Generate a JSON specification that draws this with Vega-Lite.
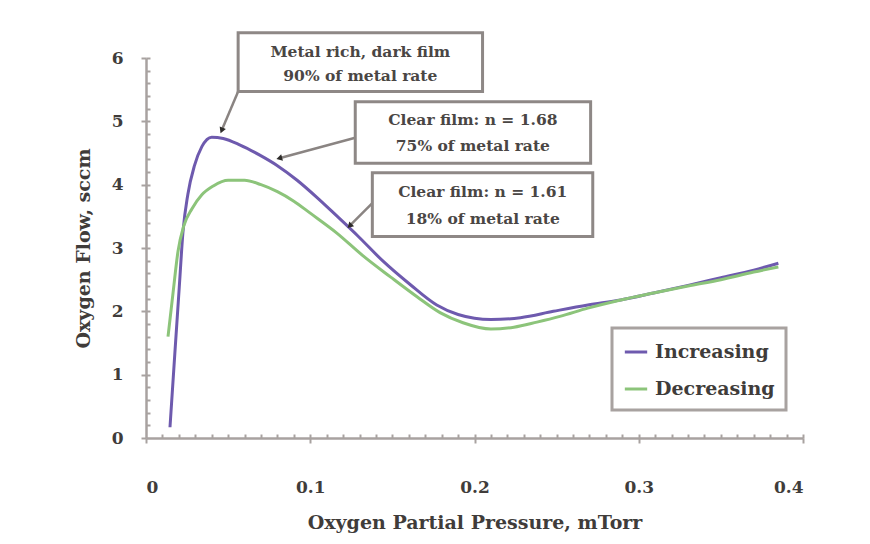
{
  "$schema": "https://vega.github.io/schema/vega-lite/v6.json",
  "autosize": "none",
  "width": 657,
  "height": 380,
  "padding": {"left": 146, "top": 58, "right": 67, "bottom": 106},
  "background": "#ffffff",
  "config": {
    "view": {"stroke": null},
    "font": "DejaVu Serif",
    "axis": {"domainColor": "#a8a2a0", "tickColor": "#a8a2a0", "domainWidth": 2.5, "tickWidth": 2, "labelFont": "DejaVu Serif", "labelFontWeight": "bold", "labelColor": "#403c3a", "labelFontSize": 17, "titleFont": "DejaVu Serif", "titleFontWeight": "bold", "titleColor": "#403c3a", "titleFontSize": 19, "grid": false}
  },
  "datasets": {
    "curves": [
      {"series": "Increasing", "p": 0.0146, "flow": 0.17},
      {"series": "Increasing", "p": 0.0177, "flow": 1.39},
      {"series": "Increasing", "p": 0.0203, "flow": 2.4},
      {"series": "Increasing", "p": 0.0225, "flow": 3.25},
      {"series": "Increasing", "p": 0.0255, "flow": 3.85},
      {"series": "Increasing", "p": 0.0295, "flow": 4.3},
      {"series": "Increasing", "p": 0.034, "flow": 4.6},
      {"series": "Increasing", "p": 0.04, "flow": 4.75},
      {"series": "Increasing", "p": 0.047, "flow": 4.73},
      {"series": "Increasing", "p": 0.057, "flow": 4.63},
      {"series": "Increasing", "p": 0.069, "flow": 4.47},
      {"series": "Increasing", "p": 0.08, "flow": 4.3},
      {"series": "Increasing", "p": 0.092, "flow": 4.07},
      {"series": "Increasing", "p": 0.104, "flow": 3.8},
      {"series": "Increasing", "p": 0.116, "flow": 3.51},
      {"series": "Increasing", "p": 0.129, "flow": 3.19},
      {"series": "Increasing", "p": 0.144, "flow": 2.8},
      {"series": "Increasing", "p": 0.161, "flow": 2.42},
      {"series": "Increasing", "p": 0.177, "flow": 2.1},
      {"series": "Increasing", "p": 0.19, "flow": 1.95},
      {"series": "Increasing", "p": 0.21, "flow": 1.87},
      {"series": "Increasing", "p": 0.228, "flow": 1.9},
      {"series": "Increasing", "p": 0.248, "flow": 2.0},
      {"series": "Increasing", "p": 0.269, "flow": 2.1},
      {"series": "Increasing", "p": 0.289, "flow": 2.18},
      {"series": "Increasing", "p": 0.309, "flow": 2.29},
      {"series": "Increasing", "p": 0.33, "flow": 2.41},
      {"series": "Increasing", "p": 0.35, "flow": 2.53},
      {"series": "Increasing", "p": 0.37, "flow": 2.65},
      {"series": "Increasing", "p": 0.385, "flow": 2.76},
      {"series": "Decreasing", "p": 0.0134, "flow": 1.6},
      {"series": "Decreasing", "p": 0.0165, "flow": 2.3},
      {"series": "Decreasing", "p": 0.0195, "flow": 2.95},
      {"series": "Decreasing", "p": 0.023, "flow": 3.35},
      {"series": "Decreasing", "p": 0.028, "flow": 3.62},
      {"series": "Decreasing", "p": 0.034, "flow": 3.84},
      {"series": "Decreasing", "p": 0.041, "flow": 3.98},
      {"series": "Decreasing", "p": 0.05, "flow": 4.07},
      {"series": "Decreasing", "p": 0.06, "flow": 4.07},
      {"series": "Decreasing", "p": 0.07, "flow": 4.0},
      {"series": "Decreasing", "p": 0.08, "flow": 3.89},
      {"series": "Decreasing", "p": 0.09, "flow": 3.74},
      {"series": "Decreasing", "p": 0.1, "flow": 3.55},
      {"series": "Decreasing", "p": 0.116, "flow": 3.24},
      {"series": "Decreasing", "p": 0.132, "flow": 2.88},
      {"series": "Decreasing", "p": 0.149, "flow": 2.54},
      {"series": "Decreasing", "p": 0.165, "flow": 2.23},
      {"series": "Decreasing", "p": 0.179, "flow": 1.98},
      {"series": "Decreasing", "p": 0.193, "flow": 1.82},
      {"series": "Decreasing", "p": 0.21, "flow": 1.72},
      {"series": "Decreasing", "p": 0.224, "flow": 1.75},
      {"series": "Decreasing", "p": 0.238, "flow": 1.83},
      {"series": "Decreasing", "p": 0.252, "flow": 1.92},
      {"series": "Decreasing", "p": 0.269, "flow": 2.05},
      {"series": "Decreasing", "p": 0.289, "flow": 2.18},
      {"series": "Decreasing", "p": 0.309, "flow": 2.29},
      {"series": "Decreasing", "p": 0.33, "flow": 2.4},
      {"series": "Decreasing", "p": 0.35, "flow": 2.5},
      {"series": "Decreasing", "p": 0.37, "flow": 2.62},
      {"series": "Decreasing", "p": 0.385, "flow": 2.7}
    ],
    "arrows": [
      {"id": "a1", "x0": 0.0561, "y0": 5.47, "x1": 0.0463, "y1": 4.87},
      {"id": "a2", "x0": 0.1274, "y0": 4.74, "x1": 0.0817, "y1": 4.42},
      {"id": "a3", "x0": 0.1378, "y0": 3.71, "x1": 0.1244, "y1": 3.36}
    ],
    "boxes": [
      {"id": "b1", "x0": 0.0561, "x1": 0.2049, "y0": 5.47, "y1": 6.4},
      {"id": "b2", "x0": 0.1274, "x1": 0.2707, "y0": 4.34, "y1": 5.31},
      {"id": "b3", "x0": 0.1378, "x1": 0.272, "y0": 3.18, "y1": 4.19}
    ],
    "labels": [
      {"x": 0.1305, "y": 6.1, "text": "Metal rich, dark film"},
      {"x": 0.1305, "y": 5.72, "text": "90% of metal rate"},
      {"x": 0.199, "y": 5.02, "text": "Clear film: n = 1.68"},
      {"x": 0.199, "y": 4.61, "text": "75% of metal rate"},
      {"x": 0.205, "y": 3.89, "text": "Clear film: n = 1.61"},
      {"x": 0.205, "y": 3.46, "text": "18% of metal rate"}
    ]
  },
  "resolve": {"axis": {"x": "independent", "y": "independent"}},
  "layer": [
    {
      "data": {"name": "curves"},
      "mark": {"type": "line", "strokeWidth": 3, "interpolate": "monotone"},
      "encoding": {
        "x": {"field": "p", "type": "quantitative", "scale": {"domain": [0, 0.4], "nice": false, "zero": false},
          "axis": {"values": [0, 0.1, 0.2, 0.3, 0.4], "format": "~g", "tickSize": 5, "labelPadding": 36, "title": "Oxygen Partial Pressure, mTorr", "titlePadding": 18}},
        "y": {"field": "flow", "type": "quantitative", "scale": {"domain": [0, 6], "nice": false},
          "axis": {"values": [0, 1, 2, 3, 4, 5, 6], "tickSize": 5, "labelPadding": 18, "title": "Oxygen Flow, sccm", "titlePadding": 18}},
        "color": {"field": "series", "type": "nominal",
          "scale": {"domain": ["Increasing", "Decreasing"], "range": ["#6e5aae", "#8cc47a"]},
          "legend": {"title": null, "orient": "none", "legendX": 466, "legendY": 270, "strokeColor": "#a8a2a0", "fillColor": "#ffffff", "padding": 11, "symbolType": "stroke", "symbolStrokeWidth": 3, "symbolSize": 500, "labelFont": "DejaVu Serif", "labelFontWeight": "bold", "labelFontSize": 19, "labelColor": "#403c3a", "rowPadding": 14, "labelOffset": 6,
            "encode": {"legend": {"update": {"strokeWidth": {"value": 3}}}}}},
        "detail": {"field": "series"}
      }
    },
    {
      "data": {"name": "curves"},
      "mark": {"type": "point", "opacity": 0},
      "encoding": {
        "x": {"field": "p", "type": "quantitative", "axis": {"orient": "bottom", "values": [0.01,0.02,0.03,0.04,0.05,0.06,0.07,0.08,0.09,0.1,0.11,0.12,0.13,0.14,0.15,0.16,0.17,0.18,0.19,0.2,0.21,0.22,0.23,0.24,0.25,0.26,0.27,0.28,0.29,0.3,0.31,0.32,0.33,0.34,0.35,0.36,0.37,0.38,0.39,0.4], "labels": false, "domain": false, "tickSize": -4, "title": null}},
        "y": {"field": "flow", "type": "quantitative", "axis": {"orient": "left", "values": [0.2,0.4,0.6,0.8,1,1.2,1.4,1.6,1.8,2,2.2,2.4,2.6,2.8,3,3.2,3.4,3.6,3.8,4,4.2,4.4,4.6,4.8,5,5.2,5.4,5.6,5.8,6], "labels": false, "domain": false, "tickSize": -4, "title": null}}
      }
    },
    {
      "data": {"name": "arrows"},
      "mark": {"type": "rule", "color": "#8a8482", "strokeWidth": 2.5},
      "encoding": {
        "x": {"field": "x0", "type": "quantitative", "axis": null},
        "y": {"field": "y0", "type": "quantitative", "axis": null},
        "x2": {"field": "x1"},
        "y2": {"field": "y1"}
      }
    },
    {
      "data": {"name": "arrows"},
      "transform": [{"filter": "datum.id == 'a1'"}],
      "mark": {"type": "point", "shape": "triangle", "filled": true, "color": "#2e2c2a", "size": 45, "angle": 203, "opacity": 1},
      "encoding": {
        "x": {"field": "x1", "type": "quantitative", "axis": null},
        "y": {"field": "y1", "type": "quantitative", "axis": null}
      }
    },
    {
      "data": {"name": "arrows"},
      "transform": [{"filter": "datum.id == 'a2'"}],
      "mark": {"type": "point", "shape": "triangle", "filled": true, "color": "#2e2c2a", "size": 45, "angle": 255, "opacity": 1},
      "encoding": {
        "x": {"field": "x1", "type": "quantitative", "axis": null},
        "y": {"field": "y1", "type": "quantitative", "axis": null}
      }
    },
    {
      "data": {"name": "arrows"},
      "transform": [{"filter": "datum.id == 'a3'"}],
      "mark": {"type": "point", "shape": "triangle", "filled": true, "color": "#2e2c2a", "size": 45, "angle": 225, "opacity": 1},
      "encoding": {
        "x": {"field": "x1", "type": "quantitative", "axis": null},
        "y": {"field": "y1", "type": "quantitative", "axis": null}
      }
    },
    {
      "data": {"name": "boxes"},
      "mark": {"type": "rect", "fill": "#ffffff", "stroke": "#8e8886", "strokeWidth": 3},
      "encoding": {
        "x": {"field": "x0", "type": "quantitative", "axis": null},
        "x2": {"field": "x1"},
        "y": {"field": "y0", "type": "quantitative", "axis": null},
        "y2": {"field": "y1"}
      }
    },
    {
      "data": {"name": "labels"},
      "mark": {"type": "text", "font": "DejaVu Serif", "fontWeight": "bold", "fontSize": 15.5, "color": "#4a4644", "align": "center", "baseline": "middle"},
      "encoding": {
        "x": {"field": "x", "type": "quantitative", "axis": null},
        "y": {"field": "y", "type": "quantitative", "axis": null},
        "text": {"field": "text"}
      }
    }
  ]
}
